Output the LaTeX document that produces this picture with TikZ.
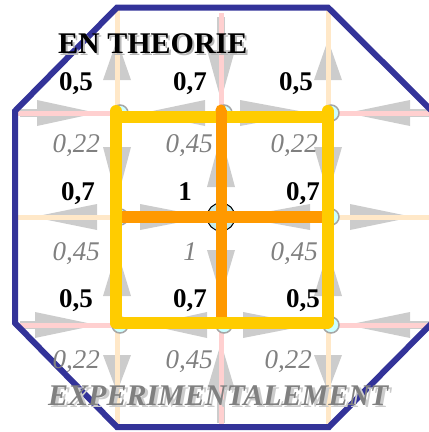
\documentclass[tikz,border=0pt]{standalone}
\usepackage{fontspec}
\setmainfont{Liberation Serif}
\definecolor{arrgray}{RGB}{204,204,204}
\definecolor{beige}{RGB}{255,232,200}
\definecolor{pinkl}{RGB}{255,208,208}
\definecolor{octblue}{RGB}{51,51,153}
\definecolor{yel}{RGB}{255,204,0}
\definecolor{org}{RGB}{255,153,0}
\definecolor{cyanl}{RGB}{204,255,255}
\definecolor{cyanc}{RGB}{196,234,236}
\definecolor{txtgray}{RGB}{128,128,128}
\newcommand\harr[3]{\fill[arrgray] (#1,#3) -- (#2,{#3-13}) -- (#2,{#3+13}) -- cycle;}
\newcommand\varr[3]{\fill[arrgray] (#3,#1) -- ({#3-14},#2) -- ({#3+14},#2) -- cycle;}
\tikzset{
  bnum/.style={font=\fontsize{27}{30}\selectfont\bfseries, anchor=base east, inner sep=0pt},
  inum/.style={font=\fontsize{27}{30}\selectfont\itshape, text=txtgray, anchor=base east, inner sep=0pt},
  gnode/.style={circle, minimum size=16pt, inner sep=0pt, fill=cyanl, draw=gray!70, line width=1.5pt},
  thinbeige/.style={beige, line width=5pt},
  thinpink/.style={pinkl, line width=5pt},
  yelline/.style={yel, line width=12pt, line cap=round},
}
\begin{document}
\begin{tikzpicture}[x=1pt,y=-1pt]
\useasboundingbox (0,0) rectangle (429,432);
% grid coordinates
\coordinate (g11) at (117,113); \coordinate (g12) at (221,113); \coordinate (g13) at (328,113);
\coordinate (g21) at (117,217); \coordinate (g22) at (221,217); \coordinate (g23) at (328,217);
\coordinate (g31) at (117,325); \coordinate (g32) at (221,325); \coordinate (g33) at (328,325);
% gray arrows: rows
\harr{97}{37}{113}  \fill[arrgray] (20,109) rectangle (38,117);
\harr{143}{205}{113}
\harr{310}{240}{113}
\harr{347}{410}{113} \fill[arrgray] (409,109) rectangle (429,117);
\harr{33}{97}{217}
\harr{207}{140}{217}
\harr{238}{310}{217}
\harr{413}{350}{217}
\harr{97}{35}{325}  \fill[arrgray] (20,321) rectangle (36,329);
\harr{148}{207}{325}
\harr{310}{243}{325}
\harr{347}{410}{325} \fill[arrgray] (409,321) rectangle (429,329);
% gray arrows: columns
\varr{40}{80}{117}
\varr{200}{147}{117}
\varr{250}{296}{117}
\varr{392}{355}{117}
\varr{100}{50}{221} \fill[arrgray] (217,17) rectangle (225,51);
\varr{135}{187}{221}
\varr{297}{250}{221}
\varr{343}{390}{221} \fill[arrgray] (217,389) rectangle (225,423);
\varr{40}{80}{328}
\varr{195}{147}{328}
\varr{250}{296}{328}
\varr{392}{355}{328}
% thin lines
\draw[thinbeige] (117,8) -- (117,427);
\draw[thinbeige] (328,8) -- (328,427);
\draw[thinbeige] (15,217) -- (429,217);
\draw[thinpink] (221,13) -- (221,427);
\draw[thinpink] (15,113) -- (429,113);
\draw[thinpink] (15,325) -- (429,325);
% octagon
\draw[octblue, line width=6pt, line join=miter] (117,7.5) -- (328,7.5) -- (432,111) -- (432,323) -- (329,427) -- (117,427) -- (15,323) -- (15,111) -- cycle;
% node circles
\foreach \p in {g11,g12,g13,g21,g23,g31,g32,g33}
  \node[gnode] (c\p) at ([xshift=3pt]\p) {};
\node[circle, minimum size=28pt, inner sep=0pt, fill=cyanc, draw=black, line width=1pt] (cg22) at (g22) {};
% yellow frame
\draw[yelline] (116,111) -- (116,322.5);
\draw[yelline] (327.5,111) -- (327.5,322.5);
\draw[yelline] (116,116.5) -- (327.5,116.5);
\draw[yelline] (116,322.5) -- (327.5,322.5);
% orange cross
\draw[org, line width=11pt] (221,317) -- (221,110);
\fill[org] (221,110) circle (5.5);
\draw[org, line width=12pt] (122,216.5) -- (322,216.5);
% bold numbers (theory)
\node[bnum] (t11) at (93,90) {0,5};
\node[bnum] (t12) at (207,90) {0,7};
\node[bnum] (t13) at (313,90) {0,5};
\node[bnum] (t21) at (95,200) {0,7};
\node[bnum] (t22) at (192,200) {1};
\node[bnum] (t23) at (320,200) {0,7};
\node[bnum] (t31) at (93,307) {0,5};
\node[bnum] (t32) at (207,307) {0,7};
\node[bnum] (t33) at (320,307) {0,5};
% italic numbers (experiment)
\node[inum] (e11) at (100,152) {0,22};
\node[inum] (e12) at (213,152) {0,45};
\node[inum] (e13) at (318,152) {0,22};
\node[inum] (e21) at (100,260) {0,45};
\node[inum] (e22) at (197,260) {1};
\node[inum] (e23) at (318,260) {0,45};
\node[inum] (e31) at (100,368) {0,22};
\node[inum] (e32) at (213,368) {0,45};
\node[inum] (e33) at (312,368) {0,22};
% titles
\node[anchor=base west, inner sep=0pt, font=\fontsize{30}{33}\selectfont\bfseries, text=gray!55] (ths) at (60,55) {EN THEORIE};
\node[anchor=base west, inner sep=0pt, font=\fontsize{30}{33}\selectfont\bfseries, text=black] (th) at (58,53) {EN THEORIE};
\node[anchor=base west, inner sep=0pt, font=\fontsize{30}{33}\selectfont\bfseries\itshape, text=gray!40] (exs) at (51,407) {EXPERIMENTALEMENT};
\node[anchor=base west, inner sep=0pt, font=\fontsize{30}{33}\selectfont\bfseries\itshape, text=txtgray] (ex) at (48,405) {EXPERIMENTALEMENT};
\end{tikzpicture}
\end{document}
